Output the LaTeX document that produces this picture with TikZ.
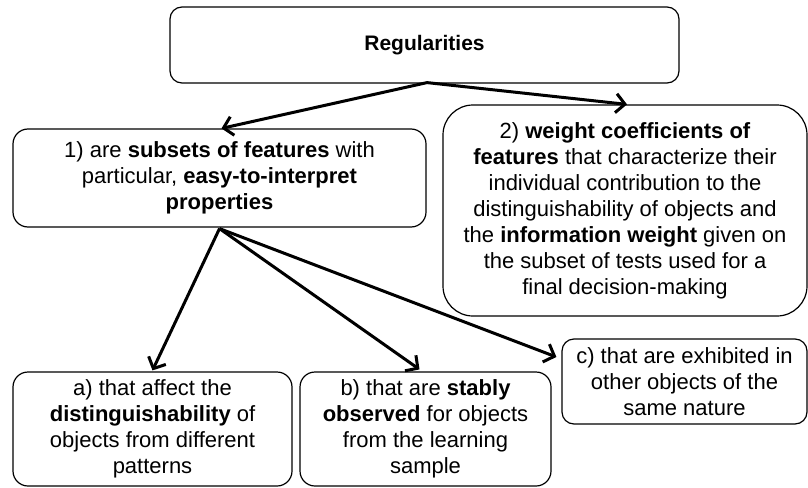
\documentclass[tikz,border=0pt]{standalone}
\usepackage{fontspec}
\setmainfont{Liberation Sans}
\usetikzlibrary{arrows.meta}
\begin{document}
\begin{tikzpicture}[x=1pt,y=-1pt,
  box/.style={draw, line width=1.2pt, rounded corners=#1, align=center, inner sep=0pt,
    font=\fontsize{22pt}{26pt}\selectfont},
  box/.default=14pt,
  conn/.style={line width=3pt, -{Straight Barb[length=9pt,width=19pt,line width=3pt]}}]
\useasboundingbox (0,0) rectangle (808,487);
\node[box=12pt, minimum width=509pt, minimum height=76pt, font=\fontsize{21pt}{25pt}\selectfont\bfseries] (top) at (424.5,45) {Regularities};
\node[box=15pt, minimum width=413pt, minimum height=98pt] (one) at (219.5,178)
  {1) are \textbf{subsets of features} with\\ particular, \textbf{easy-to-interpret}\\ \textbf{properties}};
\node[box=30pt, minimum width=364pt, minimum height=211pt] (two) at (625,210.5)
  {2) \textbf{weight coefficients of}\\ \textbf{features} that characterize their\\ individual contribution to the\\ distinguishability of objects and\\ the \textbf{information weight} given on\\ the subset of tests used for a\\ final decision-making};
\node[box=12pt, minimum width=245pt, minimum height=85pt] (c) at (684.5,381.5)
  {c) that are exhibited in\\ other objects of the\\ same nature};
\node[box=15pt, minimum width=279pt, minimum height=114pt] (a) at (152.5,429)
  {a) that affect the\\ \textbf{distinguishability} of\\ objects from different\\ patterns};
\node[box=15pt, minimum width=251pt, minimum height=114pt] (b) at (425.5,429)
  {b) that are \textbf{stably}\\ \textbf{observed} for objects\\ from the learning\\ sample};
\coordinate (ts) at ([xshift=2.5pt,yshift=1pt]top.south);
\coordinate (os) at ([yshift=-1pt]one.south);
\draw[conn] (ts) -- ([xshift=2pt]one.north);
\draw[conn] (ts) -- ([xshift=2pt]two.north);
\draw[conn] (os) -- ([yshift=1pt]a.north);
\draw[conn] (os) -- ([xshift=-6pt,yshift=2pt]b.north);
\draw[conn] (os) -- ([xshift=-5pt,yshift=24.5pt]c.west);
\end{tikzpicture}
\end{document}
